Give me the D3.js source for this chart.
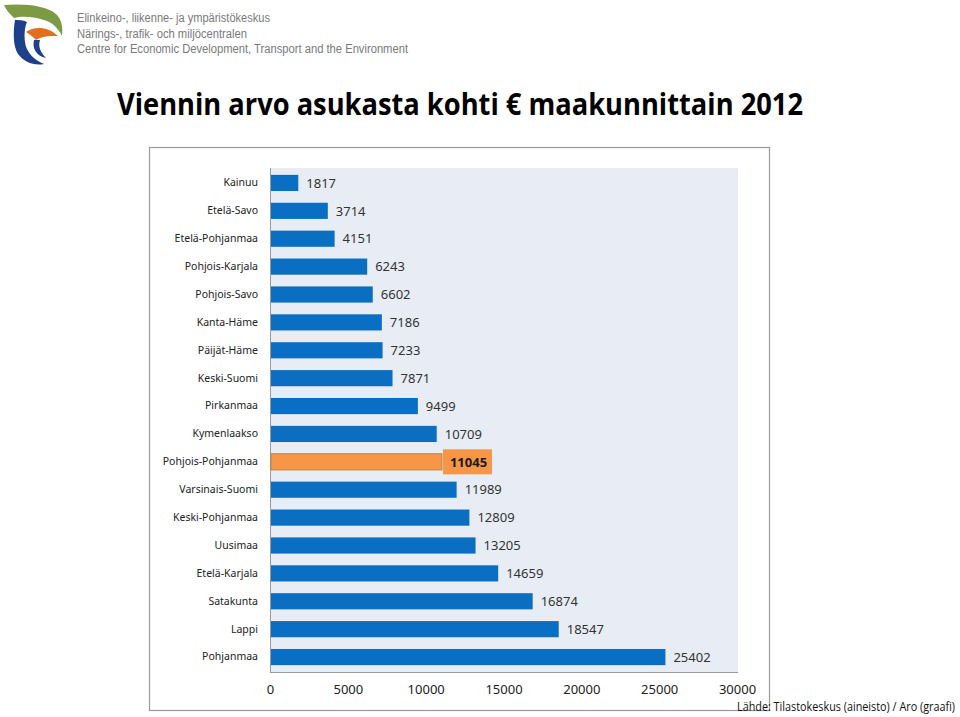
<!DOCTYPE html>
<html>
<head>
<meta charset="utf-8">
<script src="https://cdn.jsdelivr.net/npm/d3@7"></script>
<style>
  body { margin: 0; background: #fff; }
  svg { display: block; }
</style>
</head>
<body>
<script>
// chart data
var regions = ["Kainuu", "Etelä-Savo", "Etelä-Pohjanmaa", "Pohjois-Karjala", "Pohjois-Savo",
  "Kanta-Häme", "Päijät-Häme", "Keski-Suomi", "Pirkanmaa", "Kymenlaakso", "Pohjois-Pohjanmaa",
  "Varsinais-Suomi", "Keski-Pohjanmaa", "Uusimaa", "Etelä-Karjala", "Satakunta", "Lappi", "Pohjanmaa"];
var exportValues = [1817, 3714, 4151, 6243, 6602, 7186, 7233, 7871, 9499, 10709, 11045,
  11989, 12809, 13205, 14659, 16874, 18547, 25402];
var xTicks = [0, 5000, 10000, 15000, 20000, 25000, 30000];
var highlight = "Pohjois-Pohjanmaa";

var titleText = "Viennin arvo asukasta kohti € maakunnittain 2012";
var orgLines = ["Elinkeino-, liikenne- ja ympäristökeskus",
  "Närings-, trafik- och miljöcentralen",
  "Centre for Economic Development, Transport and the Environment"];
var orgWidths = [193, 170, 331];
var sourceText = "Lähde: Tilastokeskus (aineisto) / Aro (graafi)";

var svgWidth = 960;
var svgHeight = 717;

var svg = d3.select("body")
  .append("svg")
  .attr("width", svgWidth)
  .attr("height", svgHeight);

// logo (rough shapes)
var logo = svg.append("g");
logo.append("path")
  .attr("d", "M4,5 C25,3 48,6 56,14 C62,20 63,28 62,36 C58,28 52,22 44,20 C32,16 20,16 14,18 C10,14 6,10 4,5 Z")
  .attr("fill", "#7d9a45");
logo.append("path")
  .attr("d", "M15,20 C13,32 13,46 18,54 C24,62 34,66 44,64 C34,60 26,52 25,42 C24,34 25,26 27,22 C23,20 19,20 15,20 Z")
  .attr("fill", "#1d3f8c");
logo.append("path")
  .attr("d", "M34,40 C32,48 36,56 46,58 C40,52 38,46 40,40 Z")
  .attr("fill", "#1d3f8c");
logo.append("path")
  .attr("d", "M26,32 C34,26 48,26 58,36 C50,36 42,36 36,40 C32,36 29,34 26,32 Z")
  .attr("fill", "#e07020");

svg.selectAll("text.org")
  .data(orgLines)
  .enter()
  .append("text")
  .attr("class", "org")
  .attr("x", 77)
  .attr("y", (d, i) => 22 + i * 15.5)
  .attr("font-family", "Liberation Sans, Arial, sans-serif")
  .attr("font-size", 12)
  .attr("textLength", (d, i) => orgWidths[i])
  .attr("lengthAdjust", "spacingAndGlyphs")
  .attr("fill", "#7a7a7a")
  .text(d => d);

// title
svg.append("text")
  .attr("x", 117)
  .attr("y", 115)
  .attr("font-family", "Open Sans, sans-serif")
  .attr("font-weight", "bold")
  .attr("font-size", 30)
  .attr("textLength", 686)
  .attr("lengthAdjust", "spacingAndGlyphs")
  .attr("fill", "#000")
  .text(titleText);

// outer chart frame
svg.append("rect")
  .attr("x", 149.5)
  .attr("y", 147.5)
  .attr("width", 620)
  .attr("height", 563)
  .attr("fill", "#fff")
  .attr("stroke", "#9a9a9a")
  .attr("stroke-width", 1.2);

var plot = { left: 270, right: 737, top: 169, bottom: 671 };

var x = d3.scaleLinear()
  .domain([0, 30000])
  .range([plot.left, plot.right]);

var y = d3.scaleBand()
  .domain(regions)
  .range([plot.top, plot.bottom])
  .paddingInner(0.42)
  .paddingOuter(0.21);

// plot background
svg.append("rect")
  .attr("x", plot.left)
  .attr("y", plot.top - 1)
  .attr("width", plot.right - plot.left + 1)
  .attr("height", plot.bottom - plot.top + 2)
  .attr("fill", "#e8edf5");

// axis lines
svg.append("line")
  .attr("x1", plot.left + 0.5).attr("x2", plot.left + 0.5)
  .attr("y1", plot.top - 1).attr("y2", plot.bottom + 2)
  .attr("stroke", "#9a9a9a");
svg.append("line")
  .attr("x1", plot.left).attr("x2", plot.right + 1)
  .attr("y1", plot.bottom + 1.5).attr("y2", plot.bottom + 1.5)
  .attr("stroke", "#9a9a9a");

// category labels via axis
var leftAxis = d3.axisLeft(y).tickSize(0).tickPadding(12);
var gy = svg.append("g")
  .attr("transform", `translate(${plot.left}, 0)`)
  .call(leftAxis);
gy.select(".domain").remove();
gy.selectAll("text")
  .attr("font-family", "Noto Sans, sans-serif")
  .attr("font-size", 10.5)
  .attr("fill", "#222");

// x tick labels
var bottomAxis = d3.axisBottom(x).tickValues(xTicks).tickFormat(d3.format("d")).tickSize(0).tickPadding(12);
var gx = svg.append("g")
  .attr("transform", `translate(0, ${plot.bottom + 2})`)
  .call(bottomAxis);
gx.select(".domain").remove();
gx.selectAll("text")
  .attr("font-family", "Noto Sans, sans-serif")
  .attr("font-size", 13)
  .attr("fill", "#222");

var rows = regions.map((r, i) => ({ name: r, value: exportValues[i] }));

// bars
svg.selectAll("rect.bar")
  .data(rows)
  .enter()
  .append("rect")
  .attr("class", "bar")
  .attr("x", x(0) + 1)
  .attr("y", d => y(d.name))
  .attr("width", d => x(d.value) - x(0) - 1)
  .attr("height", y.bandwidth())
  .attr("fill", d => d.name === highlight ? "#f79646" : "#0a6fc2")
  .attr("stroke", d => d.name === highlight ? "#b8834f" : "none")
  .attr("stroke-width", 1);

// orange label box for highlighted region
var hl = rows.filter(d => d.name === highlight);
svg.selectAll("rect.hlbox")
  .data(hl)
  .enter()
  .append("rect")
  .attr("class", "hlbox")
  .attr("x", d => x(d.value) + 1)
  .attr("y", d => y(d.name) + y.bandwidth() / 2 - 12.5)
  .attr("width", 49)
  .attr("height", 25)
  .attr("fill", "#f79646");

// value labels
svg.selectAll("text.val")
  .data(rows)
  .enter()
  .append("text")
  .attr("class", "val")
  .attr("x", d => x(d.value) + 8)
  .attr("y", d => y(d.name) + y.bandwidth() / 2)
  .attr("dy", "0.36em")
  .attr("font-family", "Noto Sans, sans-serif")
  .attr("font-size", 13)
  .attr("font-weight", d => d.name === highlight ? "bold" : "normal")
  .attr("fill", d => d.name === highlight ? "#1a1a1a" : "#333")
  .text(d => d.value);

// source
svg.append("text")
  .attr("x", 737)
  .attr("y", 711)
  .attr("font-family", "Open Sans, sans-serif")
  .attr("font-size", 12.5)
  .attr("textLength", 218)
  .attr("lengthAdjust", "spacingAndGlyphs")
  .attr("fill", "#111")
  .text(sourceText);
</script>
</body>
</html>
